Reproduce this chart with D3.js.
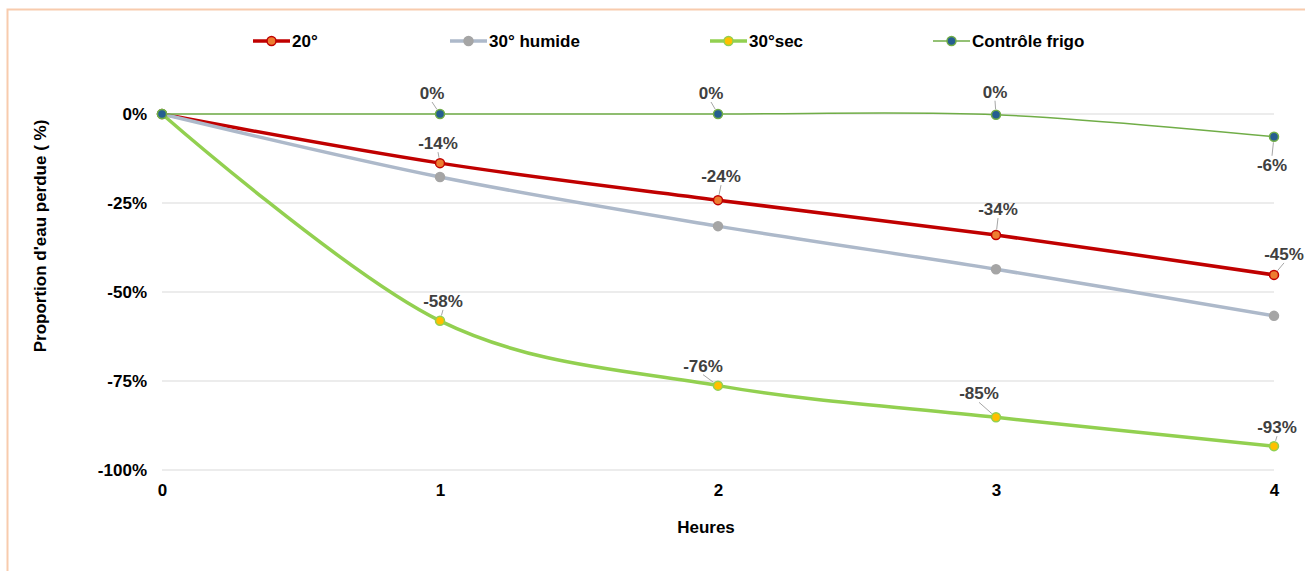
<!DOCTYPE html>
<html>
<head>
<meta charset="utf-8">
<script src="https://cdn.jsdelivr.net/npm/d3@7"></script>
<style>
  html, body { margin: 0; padding: 0; background: #fff; }
  svg { display: block; font-family: "Liberation Sans", Arial, sans-serif; }
</style>
</head>
<body>
<svg id="chart" width="1305" height="571"></svg>
<script>
// ---- data ----
const hours = [0, 1, 2, 3, 4];
const xTickLabels = ["0", "1", "2", "3", "4"];
const yTicks = [0, -25, -50, -75, -100];
const seriesNames = ["20°", "30° humide", "30°sec", "Contrôle frigo"];
const s20 = [0, -13.8, -24.2, -34.0, -45.2];
const s30humide = [0, -17.7, -31.5, -43.6, -56.7];
const s30sec = [0, -58.1, -76.3, -85.2, -93.3];
const sControle = [0, 0, 0, -0.2, -6.4];

// ---- styles / layout (not data) ----
const FS = 17;
const styles = [
  { line: "#C00000", width: 3.5, fill: "#ED7D31", stroke: "#C00000", labels: true },
  { line: "#ADB9CA", width: 3.5, fill: "#A5A5A5", stroke: "#A5A5A5", labels: false },
  { line: "#92D050", width: 3.5, fill: "#FFC000", stroke: "#92D050", labels: true },
  { line: "#70AD47", width: 1.5, fill: "#255E91", stroke: "#70AD47", labels: true }
];
// label offsets (dx, dy) from the point, for points 1..4
const labelOffsets = [
  [[-2, -20], [3, -24], [2, -26], [10, -21]],
  null,
  [[3, -20], [-15, -20], [-17, -24], [3, -19]],
  [[-8, -21], [-7, -21], [-1, -23], [-2, 28]]
];
const legendX = [253, 450, 710, 933];

const svg = d3.select("#chart");
// border
svg.append("rect").attr("x", 7.5).attr("y", 9.5).attr("width", 1400).attr("height", 700)
  .attr("fill", "none").attr("stroke", "#F8CBAD").attr("stroke-width", 2);

const x = d3.scaleLinear().domain([0, 4]).range([162, 1274]);
const y = d3.scaleLinear().domain([-100, 0]).range([470, 114]);

// gridlines
svg.append("g").selectAll("line").data(yTicks).join("line")
  .attr("x1", x(0)).attr("x2", x(4))
  .attr("y1", d => y(d)).attr("y2", d => y(d))
  .attr("stroke", "#D9D9D9").attr("stroke-width", 1);

// y axis labels
const yAxis = d3.axisLeft(y).tickValues(yTicks).tickFormat(d => d + "%").tickSize(0).tickPadding(15);
const gy = svg.append("g").attr("transform", `translate(${x(0)},0)`).call(yAxis);
gy.select(".domain").remove();
gy.selectAll("text").attr("font-size", FS).attr("font-weight", "bold").attr("fill", "#000")
  .attr("font-family", "Liberation Sans, Arial, sans-serif");

// x axis labels
const xAxis = d3.axisBottom(x).tickValues(hours).tickFormat((d, i) => xTickLabels[i]).tickSize(0).tickPadding(14);
const gx = svg.append("g").attr("transform", `translate(0,${y(-100)})`).call(xAxis);
gx.select(".domain").remove();
gx.selectAll("text").attr("font-size", FS).attr("font-weight", "bold").attr("fill", "#000")
  .attr("font-family", "Liberation Sans, Arial, sans-serif");

// axis titles
svg.append("text").attr("x", 706).attr("y", 533).attr("text-anchor", "middle")
  .attr("font-size", FS).attr("font-weight", "bold").attr("fill", "#000").text("Heures");
svg.append("text").attr("transform", "translate(46,236) rotate(-90)").attr("text-anchor", "middle")
  .attr("font-size", FS).attr("font-weight", "bold").attr("fill", "#000").text("Proportion d'eau perdue ( %)");

const allSeries = [s20, s30humide, s30sec, sControle];
const line = d3.line().x((d, i) => x(hours[i])).y(d => y(d)).curve(d3.curveCatmullRom.alpha(0));

const drawOrder = [0, 1, 2, 3];
drawOrder.forEach(si => {
  svg.append("path").datum(allSeries[si]).attr("d", line)
    .attr("fill", "none").attr("stroke", styles[si].line).attr("stroke-width", styles[si].width)
    .attr("stroke-linejoin", "round").attr("stroke-linecap", "round");
});
drawOrder.forEach(si => {
  svg.append("g").selectAll("circle").data(allSeries[si]).join("circle")
    .attr("cx", (d, i) => x(hours[i])).attr("cy", d => y(d)).attr("r", 4.5)
    .attr("fill", styles[si].fill).attr("stroke", styles[si].stroke).attr("stroke-width", 1.5);
});

// data labels with leader lines
const fmt = v => Math.round(v) + "%";
drawOrder.forEach(si => {
  if (!styles[si].labels) return;
  const offs = labelOffsets[si];
  allSeries[si].forEach((v, i) => {
    if (i === 0) return;
    const px = x(hours[i]), py = y(v);
    const [dx, dy] = offs[i - 1];
    const lx = px + dx, ly = py + dy;
    svg.append("text").attr("x", lx).attr("y", ly).attr("dy", "0.36em")
      .attr("text-anchor", "middle").attr("font-size", FS).attr("font-weight", "bold")
      .attr("fill", "#404040").text(fmt(v));
    // leader
    const sx = lx, sy = dy < 0 ? ly + 9 : ly - 9;
    const vx = px - sx, vy = py - sy;
    const len = Math.hypot(vx, vy);
    if (len > 7) {
      const ex = px - vx / len * 5.5, ey = py - vy / len * 5.5;
      svg.append("line").attr("x1", sx).attr("y1", sy).attr("x2", ex).attr("y2", ey)
        .attr("stroke", "#A6A6A6").attr("stroke-width", 1);
    }
  });
});

// legend
const legY = 41;
seriesNames.forEach((name, si) => {
  const lx = legendX[si];
  const g = svg.append("g");
  g.append("line").attr("x1", lx).attr("x2", lx + 37).attr("y1", legY).attr("y2", legY)
    .attr("stroke", styles[si].line).attr("stroke-width", styles[si].width);
  g.append("circle").attr("cx", lx + 18.5).attr("cy", legY).attr("r", 4.5)
    .attr("fill", styles[si].fill).attr("stroke", styles[si].stroke).attr("stroke-width", 1.5);
  g.append("text").attr("x", lx + 39).attr("y", legY).attr("dy", "0.36em")
    .attr("font-size", FS).attr("font-weight", "bold").attr("fill", "#000").text(name);
});
</script>
</body>
</html>
